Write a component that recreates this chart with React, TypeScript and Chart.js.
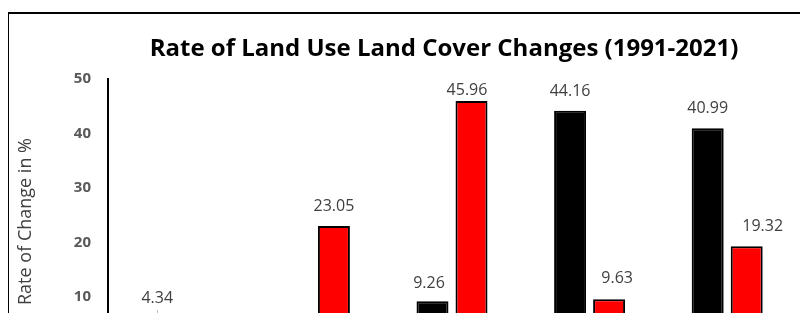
import React, { useEffect, useRef } from "react";
import { Chart, registerables } from "chart.js";

Chart.register(...registerables);

const categories = ["Built-up Area", "Vegetation", "Agricultural Land", "Water Body", "Barren Land"];
const seriesNames = ["Increase", "Decrease"];
const increaseValues = [4.34, 1.85, 9.26, 44.16, 40.99];
const decreaseValues = [2.1, 23.05, 45.96, 9.63, 19.32];
const yTicks = [0, 10, 20, 30, 40, 50];

const TITLE = "Rate of Land Use Land Cover Changes (1991-2021)";
const Y_TITLE = "Rate of Change in %";
const FONT = "'Open Sans', 'Noto Sans', sans-serif";

const textPlugin = {
  id: "customText",
  afterDatasetsDraw(chart: any, _args: any, opts: any) {
    const ctx = chart.ctx as CanvasRenderingContext2D;
    ctx.save();
    ctx.font = `16px ${FONT}`;
    ctx.fillStyle = "#404040";
    ctx.textAlign = "center";
    ctx.textBaseline = "alphabetic";
    chart.data.datasets.forEach((ds: any, di: number) => {
      const meta = chart.getDatasetMeta(di);
      meta.data.forEach((bar: any, i: number) => {
        const v = ds.data[i] as number;
        const off = (opts.offsets && opts.offsets[`${di}-${i}`]) || [0, 0];
        const bx = bar.x + off[0];
        const by = bar.y - 15 + off[1];
        ctx.fillText(v.toFixed(2), bx, by);
        if (opts.leaders && opts.leaders[`${di}-${i}`]) {
          ctx.save();
          ctx.strokeStyle = "#bfbfbf";
          ctx.lineWidth = 1;
          ctx.beginPath();
          ctx.moveTo(Math.round(bar.x) + 0.5, by + 7);
          ctx.lineTo(Math.round(bar.x) + 0.5, bar.y - 1);
          ctx.stroke();
          ctx.restore();
        }
      });
    });
    ctx.restore();
  },
  afterDraw(chart: any) {
    const ctx = chart.ctx as CanvasRenderingContext2D;
    ctx.save();
    ctx.font = `bold 24px ${FONT}`;
    ctx.fillStyle = "#000000";
    ctx.textAlign = "center";
    ctx.textBaseline = "alphabetic";
    ctx.fillText(TITLE, 435, 42);
    ctx.restore();

    ctx.save();
    ctx.font = `18px ${FONT}`;
    ctx.fillStyle = "#404040";
    ctx.textAlign = "center";
    ctx.textBaseline = "alphabetic";
    ctx.translate(22, 207.5);
    ctx.rotate(-Math.PI / 2);
    ctx.fillText(Y_TITLE, 0, 0);
    ctx.restore();
  },
};

export default function App() {
  const ref = useRef<HTMLCanvasElement | null>(null);

  useEffect(() => {
    if (!ref.current) return;
    const chart = new Chart(ref.current, {
      type: "bar",
      data: {
        labels: categories,
        datasets: [
          {
            label: seriesNames[0],
            data: increaseValues,
            backgroundColor: "#000000",
            borderColor: "#000000",
            borderWidth: 2,
            borderSkipped: false,
            barPercentage: 0.82,
            categoryPercentage: 0.567,
          },
          {
            label: seriesNames[1],
            data: decreaseValues,
            backgroundColor: "#ff0000",
            borderColor: "#000000",
            borderWidth: 2,
            borderSkipped: false,
            barPercentage: 0.82,
            categoryPercentage: 0.567,
          },
        ],
      },
      options: {
        responsive: false,
        animation: false,
        devicePixelRatio: 1,
        layout: { padding: { left: 0, right: 23, top: 65, bottom: 0 } },
        plugins: {
          legend: { display: false },
          title: { display: false },
          tooltip: { enabled: false },
          customText: {
            offsets: {
              "0-0": [0, -10],
              "1-2": [-4.5, 9],
              "0-2": [-3.5, 2],
              "1-3": [8, -1],
              "1-4": [16, 0],
            },
            leaders: { "0-0": true },
          },
        } as any,
        scales: {
          x: {
            offset: true,
            grid: { display: false, drawTicks: false },
            border: { display: true, color: "#000000", width: 2 },
            ticks: { color: "#595959", font: { family: FONT, size: 15, weight: "bold" } },
            afterFit: (scale: any) => {
              scale.height = 102.3;
            },
          },
          y: {
            min: 0,
            max: 50,
            grid: { display: false, drawTicks: false },
            border: { display: true, color: "#000000", width: 2 },
            afterBuildTicks: (scale: any) => {
              scale.ticks = yTicks.map((v) => ({ value: v }));
            },
            ticks: {
              padding: 17,
              color: "#595959",
              font: { family: FONT, size: 15, weight: "bold" },
            },
            afterFit: (scale: any) => {
              scale.width = 99;
            },
          },
        },
      },
      plugins: [textPlugin],
    });
    return () => chart.destroy();
  }, []);

  return (
    <div
      style={{
        position: "relative",
        left: -1,
        top: 4,
        width: 820,
        height: 460,
        border: "2px solid #000000",
        background: "#ffffff",
      }}
    >
      <canvas ref={ref} width={810} height={440} style={{ display: "block", width: 810, height: 440 }} />
    </div>
  );
}
